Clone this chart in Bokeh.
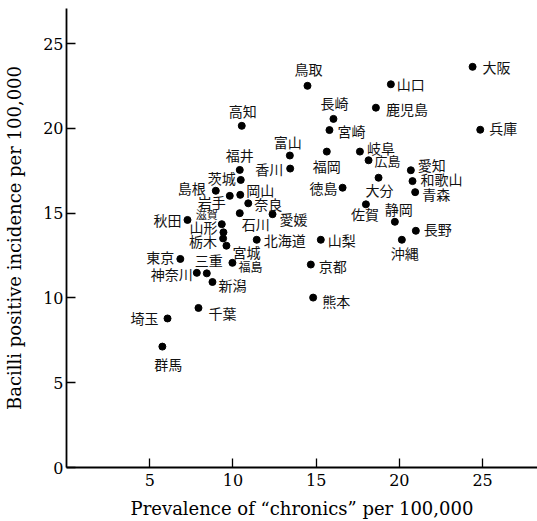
from bokeh.plotting import figure
from bokeh.models import ColumnDataSource, FixedTicker, Range1d
from bokeh.core.properties import value
from bokeh.embed import file_html
from bokeh.resources import INLINE

# ---- data ----
prefectures = ["大阪", "兵庫", "鳥取", "山口", "鹿児島", "長崎", "宮崎", "富山", "香川", "福岡",
               "岐阜", "広島", "愛知", "和歌山", "青森", "大分", "徳島", "佐賀", "静岡", "長野",
               "沖縄", "山梨", "京都", "熊本", "北海道", "高知", "福井", "茨城", "島根", "岩手",
               "岡山", "奈良", "愛媛", "石川", "滋賀", "秋田", "山形", "栃木", "宮城", "東京",
               "福島", "三重", "神奈川", "新潟", "千葉", "埼玉", "群馬"]
chronics = [24.40, 24.86, 14.48, 19.49, 18.59, 16.04, 15.80, 13.42, 13.44, 15.64,
            17.63, 18.15, 20.69, 20.79, 20.95, 18.75, 16.59, 17.99, 19.73, 20.99,
            20.15, 15.28, 14.68, 14.82, 11.43, 10.53, 10.41, 10.47, 8.97, 9.81,
            10.44, 10.92, 12.38, 10.41, 9.33, 7.27, 9.43, 9.41, 9.61, 6.84,
            9.97, 8.43, 7.83, 8.77, 7.93, 6.07, 5.76]
bacilli = [23.63, 19.92, 22.51, 22.60, 21.22, 20.56, 19.90, 18.40, 17.63, 18.63,
           18.63, 18.12, 17.53, 16.89, 16.24, 17.09, 16.50, 15.52, 14.49, 13.96,
           13.43, 13.43, 11.97, 10.02, 13.43, 20.15, 17.55, 16.96, 16.32, 16.02,
           16.08, 15.58, 14.94, 15.00, 14.35, 14.60, 13.87, 13.51, 13.08, 12.30,
           12.07, 11.45, 11.48, 10.94, 9.41, 8.79, 7.13]
x_ticks = [5, 10, 15, 20, 25]
y_ticks = [0, 5, 10, 15, 20, 25]

# ---- label placement (style, in screen pixels) ----
label_align = ["left", "left", "center", "left", "left", "center", "left", "center", "right", "center",
               "left", "left", "left", "left", "left", "center", "right", "center", "center", "left",
               "center", "left", "left", "left", "left", "center", "center", "right", "right", "right",
               "left", "left", "left", "left", "right", "right", "right", "right", "left", "right",
               "left", "center", "right", "left", "left", "right", "center"]
label_dx = [10, 9, 1, 6, 10, 1, 8, -2, -7, 0,
            7, 6, 7, 8, 7, 1, -5, -1, 4, 8,
            3, 7, 8, 9, 7, 1, 0, -5, -10, -4,
            6, 6, 7, 2, -4, -6, -6, -6, 6, -6,
            6, 2, -4, 6, 10, -9, 6]
label_dy = [0, -2, -17, 0, 1, -16, 1, -14, 0, 14,
            -4, 0, -5, -2, 2, 12, 0, 10, -13, -2,
            13, 0, 1, 3, 0, -15, -15, -2, -3, 6,
            -5, 1, 5, 11, -10, 0, -5, 3, 6, -2,
            4, -13, 1, 3, 5, 0, 17]
label_size = ["14px"] * len(prefectures)
label_size[prefectures.index("滋賀")] = "11px"
label_size[prefectures.index("福島")] = "12px"
label_size[prefectures.index("広島")] = "13px"

src = ColumnDataSource(dict(x=chronics, y=bacilli, name=prefectures,
                            align=label_align, dx=label_dx, dy=label_dy, size=label_size))

p = figure(width=537, height=521, x_range=Range1d(0, 28.3), y_range=Range1d(0, 27.07),
           output_backend="svg", toolbar_location=None,
           min_border_left=66, min_border_right=0, min_border_top=8, min_border_bottom=51)
p.background_fill_color = "white"
p.border_fill_color = "white"
p.outline_line_color = None
p.xgrid.visible = False
p.ygrid.visible = False

p.xaxis.ticker = FixedTicker(ticks=x_ticks)
p.yaxis.ticker = FixedTicker(ticks=y_ticks)
p.xaxis.axis_label = "Prevalence of \u201cchronics\u201d per 100,000"
p.yaxis.axis_label = "Bacilli positive incidence per 100,000"
for ax in (p.xaxis, p.yaxis):
    ax.axis_line_color = "black"
    ax.axis_line_width = 1.8
    ax.major_tick_line_color = "black"
    ax.major_tick_line_width = 1.3
    ax.major_tick_in = 9
    ax.major_tick_out = 0
    ax.minor_tick_in = 0
    ax.minor_tick_out = 0
    ax.major_label_text_font = "DejaVu Serif"
    ax.major_label_text_font_size = "16px"
    ax.major_label_text_color = "black"
    ax.axis_label_text_font = "DejaVu Serif"
    ax.axis_label_text_font_size = "18px"
    ax.axis_label_text_font_style = "normal"
    ax.axis_label_text_color = "black"
p.xaxis.major_label_standoff = 6
p.xaxis.axis_label_standoff = 9
p.yaxis.major_label_standoff = 3
p.yaxis.axis_label_standoff = 15

p.scatter(x="x", y="y", source=src, size=7, color="black")
p.text(x="x", y="y", text="name", source=src, x_offset="dx", y_offset="dy",
       text_align="align", text_baseline="middle", text_font=value("Noto Sans CJK JP"),
       text_font_size="size", text_color="#111111")

open("out.html", "w").write(file_html(p, INLINE))
